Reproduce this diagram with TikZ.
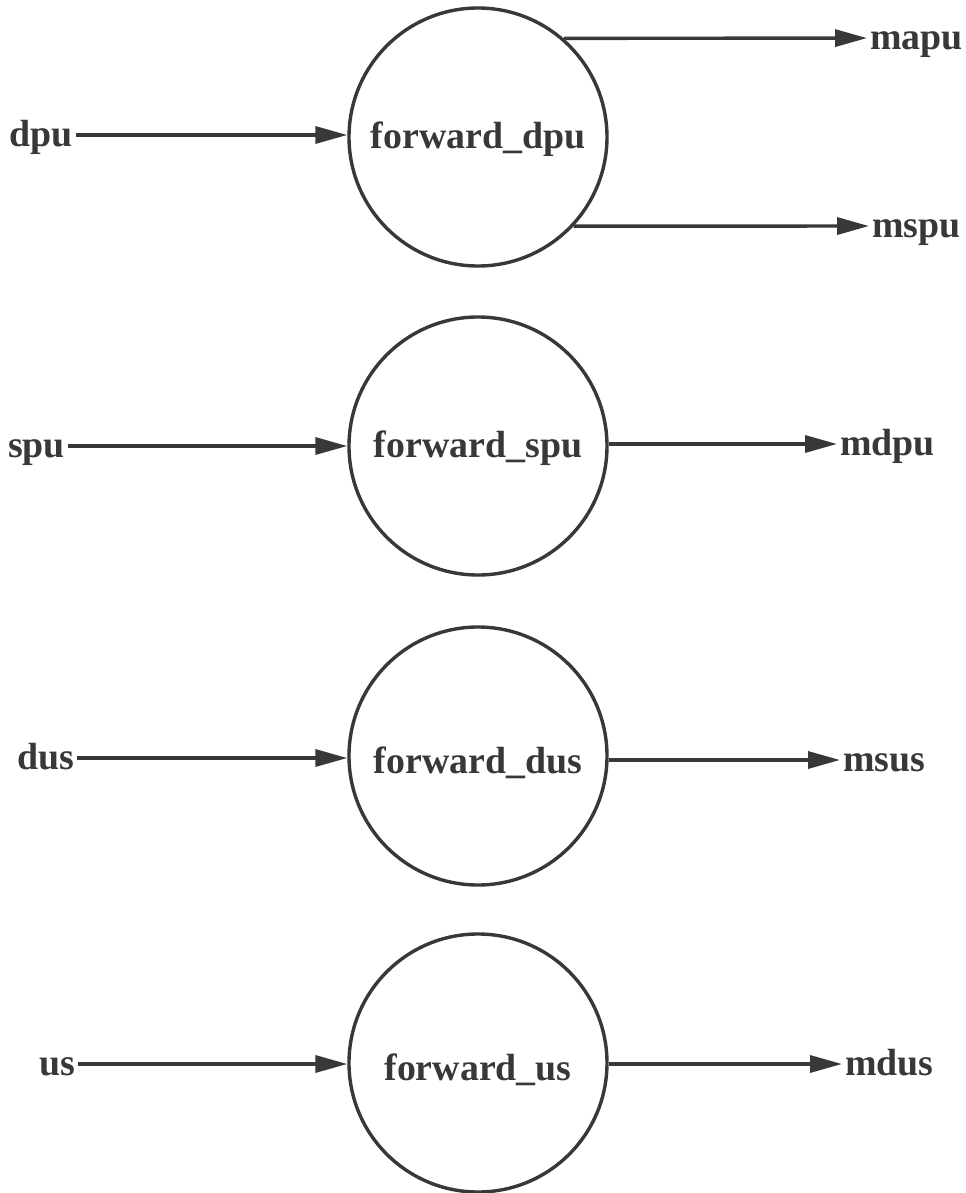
\documentclass[tikz,border=0pt]{standalone}
\usepackage{fontspec}
\setmainfont{Liberation Serif}
\usetikzlibrary{arrows.meta}
\definecolor{ink}{HTML}{383838}
\begin{document}
\begin{tikzpicture}[x=1bp,y=-1bp,
  txt/.style={text=ink,font=\fontsize{38}{40}\selectfont\bfseries,
    text height=28bp,text depth=6bp},
  proc/.style={txt,circle,draw=ink,line width=3.4bp,minimum size=258bp,inner sep=0pt},
  low/.style={text height=36bp,text depth=2bp},
  lbl/.style={txt,inner xsep=3bp,inner ysep=0pt},
  flow/.style={draw=ink,line width=3.4bp,-{Triangle[length=32bp,width=17bp]}}]
\useasboundingbox (0,0) rectangle (966,1193);

% process bubbles
\node[proc] (f1) at (478,137) {forward\_dpu};
\node[proc] (f2) at (478,446) {forward\_spu};
\node[proc,low] (f3) at (478,756) {forward\_dus};
\node[proc,low] (f4) at (478,1063) {forward\_us};

% inputs
\node[lbl,anchor=west] (dpu) at (6,135) {dpu};
\node[lbl,anchor=west] (spu) at (5,446) {spu};
\node[lbl,anchor=west] (dus) at (14,758) {dus};
\node[lbl,anchor=west] (us) at (36,1064) {us};

% outputs
\node[lbl,anchor=west] (mapu) at (867,38) {mapu};
\node[lbl,anchor=west] (mspu) at (869,226) {mspu};
\node[lbl,anchor=west] (mdpu) at (837,444) {mdpu};
\node[lbl,anchor=west] (msus) at (840,760) {msus};
\node[lbl,anchor=west] (mdus) at (842,1064) {mdus};

% flows
\draw[flow] (dpu) -- (dpu -| f1.west);
\draw[flow] (spu) -- (spu -| f2.west);
\draw[flow] (dus) -- (dus -| f3.west);
\draw[flow] (us) -- (us -| f4.west);

\draw[flow] (f1.49.4) -- (mapu);
\draw[flow] (mdpu -| f2.east) -- (mdpu);
\draw[flow] (f1.-43) -- (mspu);
\draw[flow] (msus -| f3.east) -- (msus);
\draw[flow] (mdus -| f4.east) -- (mdus);
\end{tikzpicture}
\end{document}
